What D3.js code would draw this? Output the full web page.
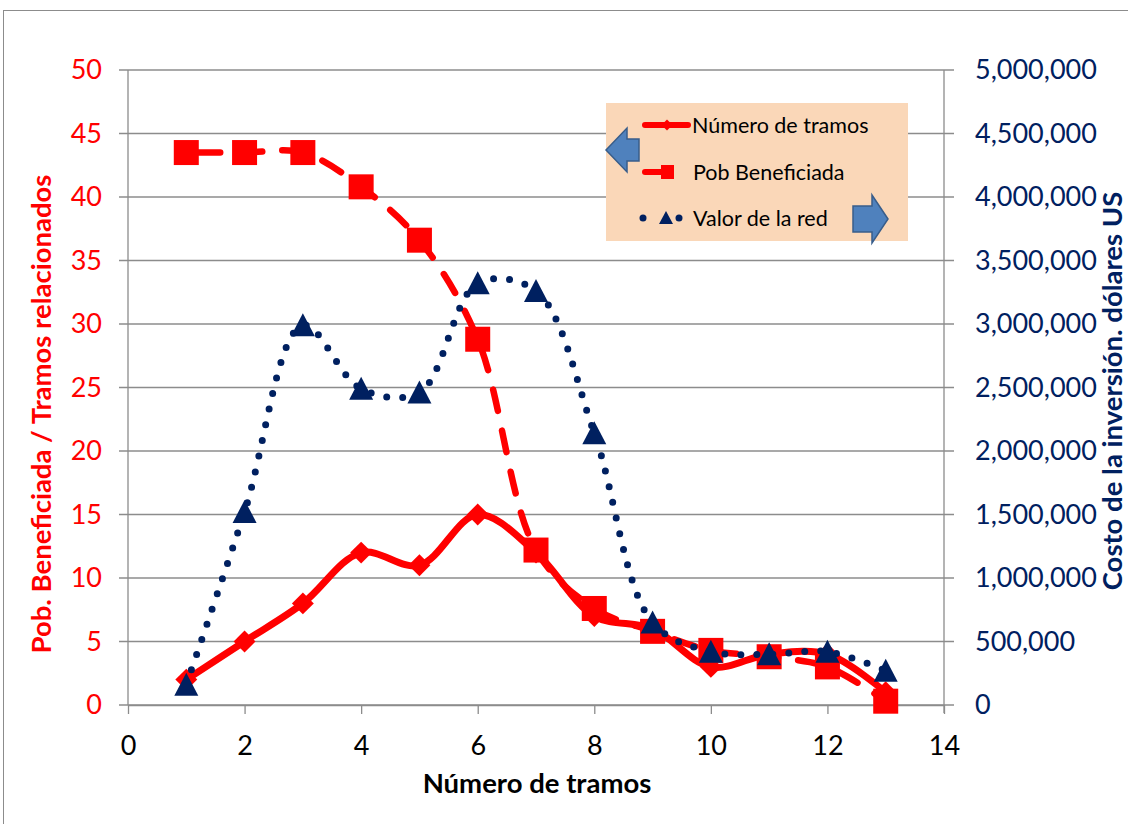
<!DOCTYPE html>
<html>
<head>
<meta charset="utf-8">
<script src="https://cdn.jsdelivr.net/npm/d3@7"></script>
<style>
  html, body { margin: 0; padding: 0; background: #fff; }
  svg { display: block; font-family: Lato, "Liberation Sans", sans-serif; }
</style>
</head>
<body>
<svg id="chart" width="1128" height="824"></svg>
<script>
// Data
const tramos = [1, 2, 3, 4, 5, 6, 7, 8, 9, 10, 11, 12, 13];
const numeroTramos = [2, 5, 8, 12, 11, 15, 12, 7, 6, 3, 4, 4, 1];
const pobBeneficiada = [43.5, 43.5, 43.5, 40.8, 36.6, 28.8, 12.2, 7.6, 5.8, 4.3, 3.8, 3.0, 0.3];
const valorRed = [160000, 1520000, 2990000, 2490000, 2460000, 3320000, 3260000, 2140000, 650000, 420000, 400000, 420000, 270000];
const xTicks = [0, 2, 4, 6, 8, 10, 12, 14];
const leftTicks = [0, 5, 10, 15, 20, 25, 30, 35, 40, 45, 50];
const rightTicks = [0, 500000, 1000000, 1500000, 2000000, 2500000, 3000000, 3500000, 4000000, 4500000, 5000000];
const legendLabels = ["Número de tramos", "Pob Beneficiada", "Valor de la red"];

const RED = "#ff0000", NAVY = "#002060", GRID = "#8c8c8c";
const TICK_FONT = 27, TITLE_FONT = 27.5;

const svg = d3.select("#chart");
const plot = { left: 128, right: 944, top: 70, bottom: 705 };

const x = d3.scaleLinear().domain([0, 14]).range([plot.left, plot.right]);
const yL = d3.scaleLinear().domain([0, 50]).range([plot.bottom, plot.top]);
const yR = d3.scaleLinear().domain([0, 5000000]).range([plot.bottom, plot.top]);

// Outer chart frame
svg.append("rect").attr("x", 3.5).attr("y", 10.5).attr("width", 1200).attr("height", 900)
  .attr("fill", "#fff").attr("stroke", "#8c8c8c").attr("stroke-width", 1);

// Horizontal gridlines with outer tick marks on both sides
svg.append("g").selectAll("line").data(leftTicks).join("line")
  .attr("x1", plot.left - 9).attr("x2", plot.right + 10)
  .attr("y1", d => yL(d)).attr("y2", d => yL(d))
  .attr("stroke", GRID).attr("stroke-width", 1.3);

// Axis lines
svg.append("line").attr("x1", plot.left).attr("x2", plot.left).attr("y1", plot.top).attr("y2", plot.bottom)
  .attr("stroke", GRID).attr("stroke-width", 1.3);
svg.append("line").attr("x1", plot.right).attr("x2", plot.right).attr("y1", plot.top).attr("y2", plot.bottom + 8)
  .attr("stroke", GRID).attr("stroke-width", 1.3);

// Bottom axis
const xAxis = svg.append("g").attr("transform", `translate(0,${plot.bottom})`)
  .call(d3.axisBottom(x).tickValues(xTicks).tickSize(9).tickSizeOuter(0).tickPadding(0));
xAxis.select(".domain").attr("stroke", GRID).attr("stroke-width", 1.3);
xAxis.selectAll(".tick line").attr("stroke", GRID).attr("stroke-width", 1.3);
xAxis.selectAll("text").attr("y", 41).attr("dy", "0.35em")
  .attr("font-size", TICK_FONT).attr("fill", "#000").attr("font-family", "Lato, sans-serif");

// Left axis labels
const leftAxis = svg.append("g").attr("transform", `translate(${plot.left},0)`)
  .call(d3.axisLeft(yL).tickValues(leftTicks).tickSize(0).tickPadding(26));
leftAxis.select(".domain").remove();
leftAxis.selectAll("text").attr("font-size", TICK_FONT).attr("fill", RED).attr("font-family", "Lato, sans-serif");

// Right axis labels
const rightAxis = svg.append("g").attr("transform", `translate(${plot.right},0)`)
  .call(d3.axisRight(yR).tickValues(rightTicks).tickSize(0).tickPadding(31).tickFormat(d3.format(",")));
rightAxis.select(".domain").remove();
rightAxis.selectAll("text").attr("font-size", TICK_FONT).attr("fill", NAVY).attr("font-family", "Lato, sans-serif");

// Axis titles
svg.append("text").attr("x", 537).attr("y", 793)
  .attr("text-anchor", "middle").attr("font-weight", "bold").attr("font-size", TITLE_FONT).attr("fill", "#000")
  .text("Número de tramos");
svg.append("text").attr("transform", "translate(51,414) rotate(-90)")
  .attr("text-anchor", "middle").attr("font-weight", "bold").attr("font-size", TITLE_FONT).attr("fill", RED)
  .text("Pob. Beneficiada / Tramos relacionados");
svg.append("text").attr("transform", "translate(1122,391) rotate(-90)")
  .attr("text-anchor", "middle").attr("font-weight", "bold").attr("font-size", TITLE_FONT).attr("fill", NAVY)
  .text("Costo de la inversión. dólares US");

const curve = d3.curveCatmullRom.alpha(0.5);

// Número de tramos: solid smoothed line with diamonds
const lineNum = d3.line().x((d, i) => x(tramos[i])).y(d => yL(d)).curve(curve);
svg.append("path").datum(numeroTramos).attr("d", lineNum)
  .attr("fill", "none").attr("stroke", RED).attr("stroke-width", 7).attr("stroke-linejoin", "round");
svg.append("g").selectAll("path").data(numeroTramos).join("path")
  .attr("d", d3.symbol(d3.symbolSquare, 240)())
  .attr("transform", (d, i) => `translate(${x(tramos[i])},${yL(d)}) rotate(45)`)
  .attr("fill", RED);

// Pob Beneficiada: dashed smoothed line with squares
const linePob = d3.line().x((d, i) => x(tramos[i])).y(d => yL(d)).curve(curve);
svg.append("path").datum(pobBeneficiada).attr("d", linePob)
  .attr("fill", "none").attr("stroke", RED).attr("stroke-width", 6.5)
  .attr("stroke-dasharray", "22 20").attr("stroke-dashoffset", -12).attr("stroke-linecap", "round");
svg.append("g").selectAll("rect").data(pobBeneficiada).join("rect")
  .attr("x", (d, i) => x(tramos[i]) - 12.5).attr("y", d => yL(d) - 12.5)
  .attr("width", 25).attr("height", 25).attr("fill", RED);

// Valor de la red: dotted smoothed line with triangles (right axis)
const lineVal = d3.line().x((d, i) => x(tramos[i])).y(d => yR(d)).curve(curve);
svg.append("path").datum(valorRed).attr("d", lineVal)
  .attr("fill", "none").attr("stroke", NAVY).attr("stroke-width", 7)
  .attr("stroke-dasharray", "0 16").attr("stroke-linecap", "round");
const tri = d3.line()([[0, -12], [12, 11], [-12, 11]]) + "Z";
svg.append("g").selectAll("path").data(valorRed).join("path")
  .attr("d", tri)
  .attr("transform", (d, i) => `translate(${x(tramos[i])},${yR(d)})`)
  .attr("fill", NAVY);

// Legend box
const lg = svg.append("g");
lg.append("rect").attr("x", 606).attr("y", 103).attr("width", 302).attr("height", 138).attr("fill", "#fad7b8");
const rows = [125, 172, 218];
// sample: solid + diamond
lg.append("line").attr("x1", 645).attr("x2", 688).attr("y1", rows[0]).attr("y2", rows[0])
  .attr("stroke", RED).attr("stroke-width", 6).attr("stroke-linecap", "round");
lg.append("path").attr("d", d3.symbol(d3.symbolSquare, 60)())
  .attr("transform", `translate(667,${rows[0]}) rotate(45)`).attr("fill", RED);
// sample: dash + square
lg.append("line").attr("x1", 645).attr("x2", 662).attr("y1", rows[1]).attr("y2", rows[1])
  .attr("stroke", RED).attr("stroke-width", 6).attr("stroke-linecap", "round");
lg.append("rect").attr("x", 661).attr("y", rows[1] - 7).attr("width", 13).attr("height", 14).attr("fill", RED);
// sample: dots + triangle
[643, 679].forEach(cx => lg.append("circle").attr("cx", cx).attr("cy", rows[2]).attr("r", 3.5).attr("fill", NAVY));
lg.append("path").attr("d", d3.line()([[0, -7], [7, 6], [-7, 6]]) + "Z")
  .attr("transform", `translate(666,${rows[2]})`).attr("fill", NAVY);
legendLabels.forEach((t, i) => {
  lg.append("text").attr("x", i === 0 ? 692 : 693).attr("y", rows[i]).attr("dy", "0.35em")
    .attr("font-size", 21.5).attr("fill", "#000").text(t);
});

// Block arrows pointing to each axis
const arrowFill = "#4f81bd", arrowStroke = "#385d8a";
const leftArrow = [[606, 150], [627, 128], [627, 139], [639, 139], [639, 161], [627, 161], [627, 172]];
const rightArrow = [[888, 219], [872, 195], [872, 206], [853, 206], [853, 232], [872, 232], [872, 243]];
[leftArrow, rightArrow].forEach(pts => {
  svg.append("path").attr("d", d3.line()(pts) + "Z")
    .attr("fill", arrowFill).attr("stroke", arrowStroke).attr("stroke-width", 1.5);
});
</script>
</body>
</html>
